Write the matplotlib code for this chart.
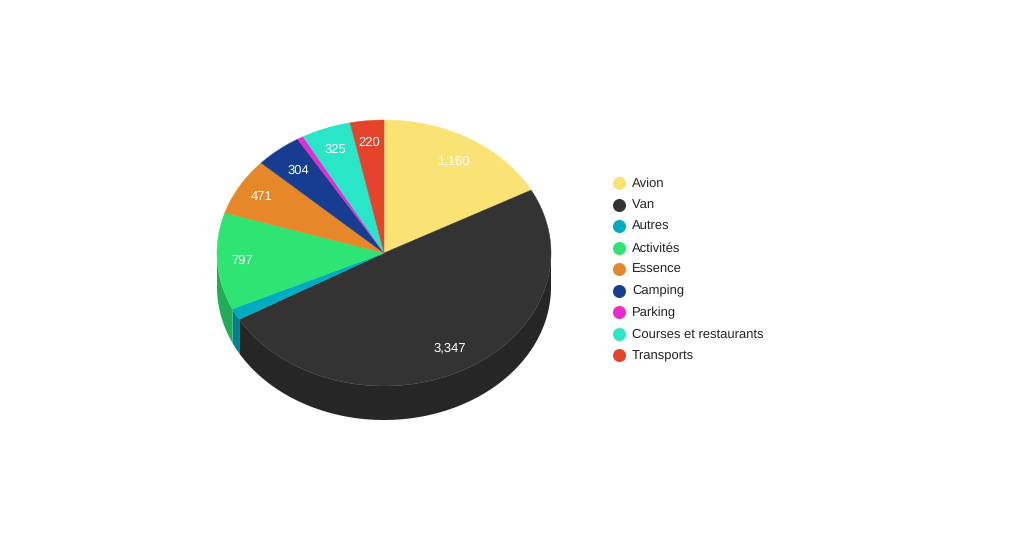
#!/usr/bin/env python3
import numpy as np
import matplotlib
matplotlib.use("Agg")
import matplotlib.pyplot as plt
from matplotlib.colors import to_rgb
from matplotlib.patches import Polygon

categories = ["Avion", "Van", "Autres", "Activités", "Essence", "Camping",
              "Parking", "Courses et restaurants", "Transports"]
values = [1160, 3347, 95, 797, 471, 304, 40, 325, 220]
labels = ["1,160", "3,347", "", "797", "471", "304", "", "325", "220"]
colors = ["#FBE274", "#333333", "#00ACC1", "#2EE574", "#E6882A", "#163D8F",
          "#E82BD0", "#2AE6C8", "#E5432B"]
label_radius = [0.81, 0.81, 0, 0.85, 0.85, 0.81, 0, 0.83, 0.84]

# pie geometry, in image pixels
CX, CY = 384, 253
RX, RY = 167, 133
DEPTH = 34
WALL_SHADE = 0.75

plt.rcParams["font.family"] = ["Liberation Sans", "DejaVu Sans"]
plt.rcParams["text.hinting"] = "no_hinting"
plt.rcParams["text.hinting_factor"] = 1

fig = plt.figure(figsize=(10.24, 5.39), dpi=100)
ax = fig.add_axes([0, 0, 1, 1])
ax.set_xlim(0, 1024)
ax.set_ylim(539, 0)
ax.axis("off")


def arc(a1, a2, n=120):
    # angles clockwise from the top of the pie
    t = np.linspace(a1, a2, n)
    return np.column_stack([CX + RX * np.sin(t), CY - RY * np.cos(t)])


fractions = np.array(values) / sum(values)
edges = np.concatenate([[0], np.cumsum(fractions)]) * 2 * np.pi

# outer walls first, only the front half of the rim shows
for i, color in enumerate(colors):
    a1 = max(edges[i], np.pi / 2)
    a2 = min(edges[i + 1], 3 * np.pi / 2)
    if a2 <= a1:
        continue
    top = arc(a1, a2)
    bottom = top[::-1] + [0, DEPTH]
    shade = tuple(c * WALL_SHADE for c in to_rgb(color))
    ax.add_patch(Polygon(np.vstack([top, bottom]), closed=True, fc=shade,
                         ec="none"))

# top face
for i, color in enumerate(colors):
    pts = np.vstack([[CX, CY], arc(edges[i], edges[i + 1])])
    ax.add_patch(Polygon(pts, closed=True, fc=color, ec=color, lw=0.3,
                         joinstyle="round"))

for i, label in enumerate(labels):
    if not label:
        continue
    mid = (edges[i] + edges[i + 1]) / 2
    r = label_radius[i]
    ax.text(CX + r * RX * np.sin(mid), CY - r * RY * np.cos(mid) + 0.5,
            label, color="white", fontsize=9.4, ha="center", va="center")

# legend
for i, (name, color) in enumerate(zip(categories, colors)):
    y = 183 + 21.55 * i
    ax.scatter([619], [y], s=88, color=color, linewidths=0)
    ax.text(632, y + 0.5, name, color="#222222", fontsize=9.55, va="center", ha="left")

fig.savefig("out.png", dpi=100, facecolor="white")
